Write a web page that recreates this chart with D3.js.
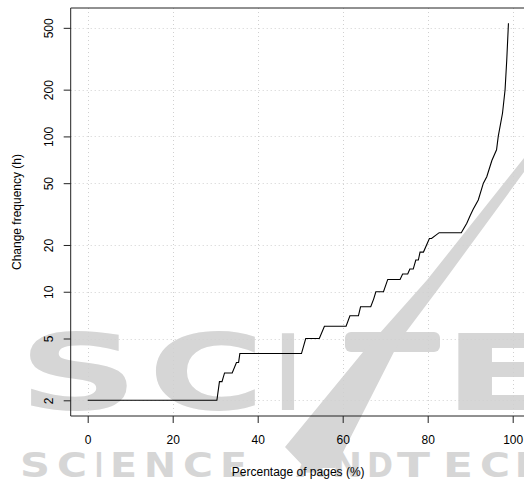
<!DOCTYPE html>
<html>
<head>
<meta charset="utf-8">
<script src="https://cdn.jsdelivr.net/npm/d3@7"></script>
<style>
  html, body { margin: 0; padding: 0; background: #fff; }
  svg { display: block; font-family: "Liberation Sans", Arial, sans-serif; }
</style>
</head>
<body>
<svg id="chart" width="524" height="482"></svg>
<script>
// ---------- DATA ----------
// breakpoints of the sorted change-frequency curve
const pagePct = [0, 30.4, 31.0, 31.6, 32.2, 34.0, 35.0, 35.5, 35.8,
  50.3, 51.3, 54.5, 55.7, 60.8, 61.7, 63.7, 64.2, 66.6, 67.3, 67.8,
  69.6, 70.6, 73.5, 74.1, 75.3, 75.8, 76.6, 77.2, 77.8, 78.2, 79.0, 80.4,
  80.9, 82.7, 87.9, 89.2, 90.0, 90.7, 91.9, 93.1, 93.9, 95.1, 96.2, 96.6,
  97.6, 98.2, 98.6, 99.0];
const changeFreq = [2, 2, 2.64, 2.64, 3, 3, 3.5, 3.5, 4,
  4, 5, 5, 6, 6, 7, 7, 8, 8, 9, 10,
  10, 12, 12, 13, 13, 14, 14, 16, 16, 18, 18, 22,
  22, 24, 24, 27.6, 31, 34, 39, 50, 55, 70, 82, 100,
  141, 199, 310, 535];

const xTicks = [0, 20, 40, 60, 80, 100];
const yTicks = [2, 5, 10, 20, 50, 100, 200, 500];
const xTitle = "Percentage of pages (%)";
const yTitle = "Change frequency (h)";

// watermark letters / words
const markBig = ["S", "C", "I", "E"];
const markSmall = ["S", "C", "I", "E", "N", "C", "E", "A", "N", "D", "T", "E", "C", "H"];

// ---------- CONFIG ----------
const W = 524, H = 482;
const plot = { left: 70.7, right: 529.7, top: 8, bottom: 416 };
const markGray = "#d6d6d6";

const svg = d3.select("#chart");
svg.append("rect").attr("width", W).attr("height", H).attr("fill", "#fff");

// ---------- WATERMARK ----------
const wm = svg.append("g").attr("fill", markGray);
// [left, width] of each big glyph
const bigPos = [[18, 121], [148, 117], [276, 24], [442, 122]];
markBig.forEach((ch, i) => {
  wm.append("text")
    .attr("x", bigPos[i][0]).attr("y", 410)
    .attr("font-family", "DejaVu Sans").attr("font-weight", "bold")
    .attr("font-size", 106)
    .attr("textLength", bigPos[i][1]).attr("lengthAdjust", "spacingAndGlyphs")
    .text(ch);
});
// the stylised T: short top bar plus a tapering slash
wm.append("rect").attr("x", 345).attr("y", 332).attr("width", 95).attr("height", 20).attr("rx", 6);
wm.append("path")
  .attr("d", "M285,447 L363,352 L427,280 L524,158 L524,172 L445,280 L400,340 L335,468 L305,468 Z");

const smallPos = [[20, 30], [57, 30], [95, 8], [110, 27], [144, 32], [183, 30], [220, 27],
  [296, 30], [332, 30], [367, 26], [397, 33], [443, 30], [480, 30], [515, 30]];
markSmall.forEach((ch, i) => {
  wm.append("text")
    .attr("x", smallPos[i][0]).attr("y", 477)
    .attr("font-family", "DejaVu Sans").attr("font-weight", "bold")
    .attr("font-size", 34)
    .attr("textLength", smallPos[i][1]).attr("lengthAdjust", "spacingAndGlyphs")
    .text(ch);
});

// ---------- SCALES ----------
const x = d3.scaleLinear().domain([-4, 104]).range([plot.left, plot.right]);
const y = d3.scaleLog().domain([1.585, 671]).range([plot.bottom, plot.top]);

// ---------- GRID ----------
const grid = svg.append("g")
  .attr("stroke", "#d0d0d0").attr("stroke-width", 1).attr("stroke-dasharray", "1,3");
grid.selectAll("line.v").data(xTicks).join("line").attr("class", "v")
  .attr("x1", d => Math.round(x(d)) + 0.5).attr("x2", d => Math.round(x(d)) + 0.5)
  .attr("y1", plot.top).attr("y2", plot.bottom);
grid.selectAll("line.h").data(yTicks).join("line").attr("class", "h")
  .attr("y1", d => Math.round(y(d)) + 0.5).attr("y2", d => Math.round(y(d)) + 0.5)
  .attr("x1", plot.left).attr("x2", plot.right);

// ---------- CURVE ----------
const pts = pagePct.map((p, i) => [p, changeFreq[i]]);
svg.append("path")
  .datum(pts)
  .attr("fill", "none").attr("stroke", "#000").attr("stroke-width", 1.1)
  .attr("d", d3.line().x(d => x(d[0])).y(d => y(d[1])));

// ---------- AXES ----------
const xAxis = svg.append("g")
  .attr("transform", `translate(0,${plot.bottom})`)
  .call(d3.axisBottom(x).tickValues(xTicks).tickSize(7).tickPadding(12).tickSizeOuter(0));
const yAxis = svg.append("g")
  .attr("transform", `translate(${plot.left},0)`)
  .call(d3.axisLeft(y).tickValues(yTicks).tickFormat(d3.format("d")).tickSize(7).tickSizeOuter(0));

for (const g of [xAxis, yAxis]) {
  g.select(".domain").remove();
  g.selectAll("line").attr("stroke", "#222");
  g.selectAll("text").attr("font-size", 12).attr("fill", "#000")
    .attr("font-family", "Liberation Sans, Arial, sans-serif");
}
// R draws y labels parallel to the axis
yAxis.selectAll(".tick text")
  .attr("x", null).attr("dy", null)
  .attr("transform", "translate(-18,0) rotate(-90)")
  .attr("text-anchor", "middle");

// box: left, top, bottom
svg.append("path")
  .attr("fill", "none").attr("stroke", "#222").attr("stroke-width", 1)
  .attr("d", `M${W + 10},${plot.top}H${plot.left}V${plot.bottom}H${W + 10}`);

// ---------- TITLES ----------
svg.append("text")
  .attr("x", (plot.left + plot.right) / 2 - 2).attr("y", 476)
  .attr("text-anchor", "middle").attr("font-size", 12)
  .text(xTitle);
svg.append("text")
  .attr("transform", `translate(21,${(plot.top + plot.bottom) / 2}) rotate(-90)`)
  .attr("text-anchor", "middle").attr("font-size", 12)
  .text(yTitle);
</script>
</body>
</html>
